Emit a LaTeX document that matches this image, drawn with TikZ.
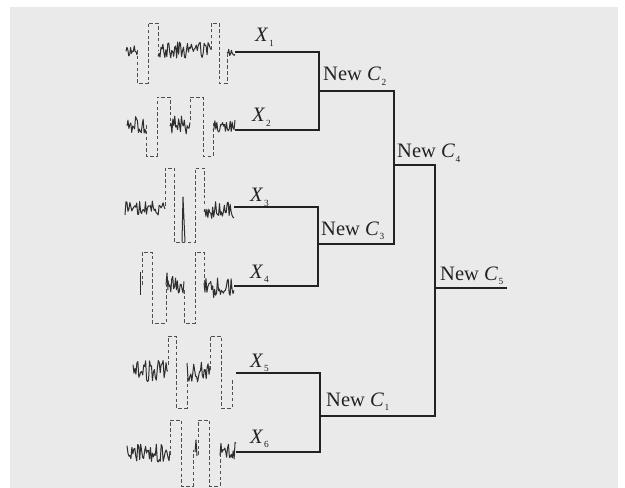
\documentclass[tikz,border=0pt]{standalone}
\usepackage{fontspec}
\setmainfont{Liberation Serif}
\usepackage{tikz}
\usetikzlibrary{calc}
\definecolor{paper}{HTML}{EAEAEA}
\definecolor{ink}{HTML}{222222}
\definecolor{trace}{HTML}{2E2E2E}
\definecolor{pulsegray}{HTML}{505050}
\tikzset{
    tree/.style={line width=1.6pt, ink},
    noise/.style={line width=0.85pt, trace, line join=round},
    pulse/.style={densely dashed, line width=0.6pt, pulsegray},
    lab/.style={inner sep=0pt, font=\fontsize{17.5}{19}\selectfont, ink}
}
\newcommand{\lbl}[2]{\textit{#1}\kern0.5pt\raisebox{-0.45ex}{\fontsize{8}{8}\selectfont #2}}
% jagged trace from x=#1 to x=#2 round y=#3, amplitude #4
\newcommand{\noisy}[4]{%
    \pgfmathtruncatemacro\nsmp{(#2-#1)/1.0+2}%
    \draw[noise] plot[domain=#1:#2, samples=\nsmp] (\x,{#3+#4*rand});}

\begin{document}
\begin{tikzpicture}[x=0.03cm, y=-0.03cm]
    \pgfmathsetseed{7}
    \useasboundingbox (0,0) rectangle (625,488);
    \fill[white] (0,0) rectangle (625,488);
    \fill[paper] (10,7) rectangle (618,488);

    % signals
    \noisy{126}{137}{50}{6}
    \draw[pulse] (137,50) -- (137,83) -- (148,83) -- (148,23) -- (158,23) -- (158,50);
    \noisy{158}{211}{50}{8}
    \draw[pulse] (211,50) -- (211,23) -- (219,23) -- (219,83) -- (227,83) -- (227,52);
    \noisy{227}{235}{52}{4}

    \noisy{127}{146}{125}{9}
    \draw[pulse] (146,125) -- (146,156) -- (157,156) -- (157,97) -- (170,97) -- (170,125);
    \noisy{170}{190}{125}{9}
    \draw[pulse] (190,120) -- (190,97) -- (203,97) -- (203,156) -- (213,156) -- (213,122);
    \noisy{213}{235}{126}{6}

    \noisy{125}{165}{208}{7}
    \draw[pulse] (165,206) -- (165,168) -- (174,168) -- (174,242) -- (195,242) -- (195,168) -- (204,168) -- (204,205);
    \draw[noise] (182,242) -- (183,197) -- (185,242);
    \noisy{204}{234}{210}{9}

    \draw[noise] (140,272) -- (140,295);
    \draw[pulse] (142,285) -- (142,252) -- (152,252) -- (152,323) -- (166,323) -- (166,285);
    \draw[noise] (166,285) -- (167,273) -- (168,290);
    \noisy{168}{184}{285}{9}
    \draw[pulse] (184,290) -- (184,323) -- (195,323) -- (195,252) -- (204,252) -- (204,285);
    \noisy{204}{234}{288}{11}

    \noisy{133}{168}{370}{12}
    \draw[pulse] (168,365) -- (168,336) -- (176,336) -- (176,408) -- (187,408) -- (187,375);
    \noisy{187}{210}{372}{10}
    \draw[pulse] (210,370) -- (210,336) -- (221,336) -- (221,408) -- (232,408) -- (232,380);

    \noisy{127}{170}{453}{9}
    \draw[pulse] (170,455) -- (170,420) -- (181,420) -- (181,486) -- (193,486) -- (193,450);
    \draw[noise] (195,452) -- (196,440) -- (197,456);
    \draw[pulse] (198,455) -- (198,420) -- (209,420) -- (209,486) -- (220,486) -- (220,448);
    \noisy{220}{236}{452}{10}

    % leaves and joins
    \coordinate (x1) at (235,52);
    \coordinate (x2) at (235,130);
    \coordinate (x3) at (234,207);
    \coordinate (x4) at (234,286);
    \coordinate (x5) at (236,373);
    \coordinate (x6) at (236,452);
    \coordinate (j2) at (319,91);
    \coordinate (j3) at (318,244);
    \coordinate (j1) at (320,416);
    \coordinate (j4) at (394,165);
    \coordinate (j5) at (435,288);
    \coordinate (root) at (507,288);

    \draw[tree] (x1) -| (j2) |- (x2);
    \draw[tree] (x3) -| (j3) |- (x4);
    \draw[tree] (x5) -| (j1) |- (x6);
    \draw[tree] (j2) -| (j4) |- (j3);
    \draw[tree] (j4) -| (j5) |- (j1);
    \draw[tree] (j5) -- (root);

    % labels
    \node[lab, anchor=base west] (lx1) at (255,42) {\lbl{X}{1}};
    \node[lab, anchor=base west] (lx2) at (252,122) {\lbl{X}{2}};
    \node[lab, anchor=base west] (lx3) at (250,202) {\lbl{X}{3}};
    \node[lab, anchor=base west] (lx4) at (250,278) {\lbl{X}{4}};
    \node[lab, anchor=base west] (lx5) at (250,367) {\lbl{X}{5}};
    \node[lab, anchor=base west] (lx6) at (250,443) {\lbl{X}{6}};
    \node[lab, anchor=base west] (lc2) at (323,81) {New \lbl{C}{2}};
    \node[lab, anchor=base west] (lc3) at (321,235) {New \lbl{C}{3}};
    \node[lab, anchor=base west] (lc4) at (397,158) {New \lbl{C}{4}};
    \node[lab, anchor=base west] (lc1) at (326,406) {New \lbl{C}{1}};
    \node[lab, anchor=base west] (lc5) at (440,280) {New \lbl{C}{5}};
\end{tikzpicture}
\end{document}
